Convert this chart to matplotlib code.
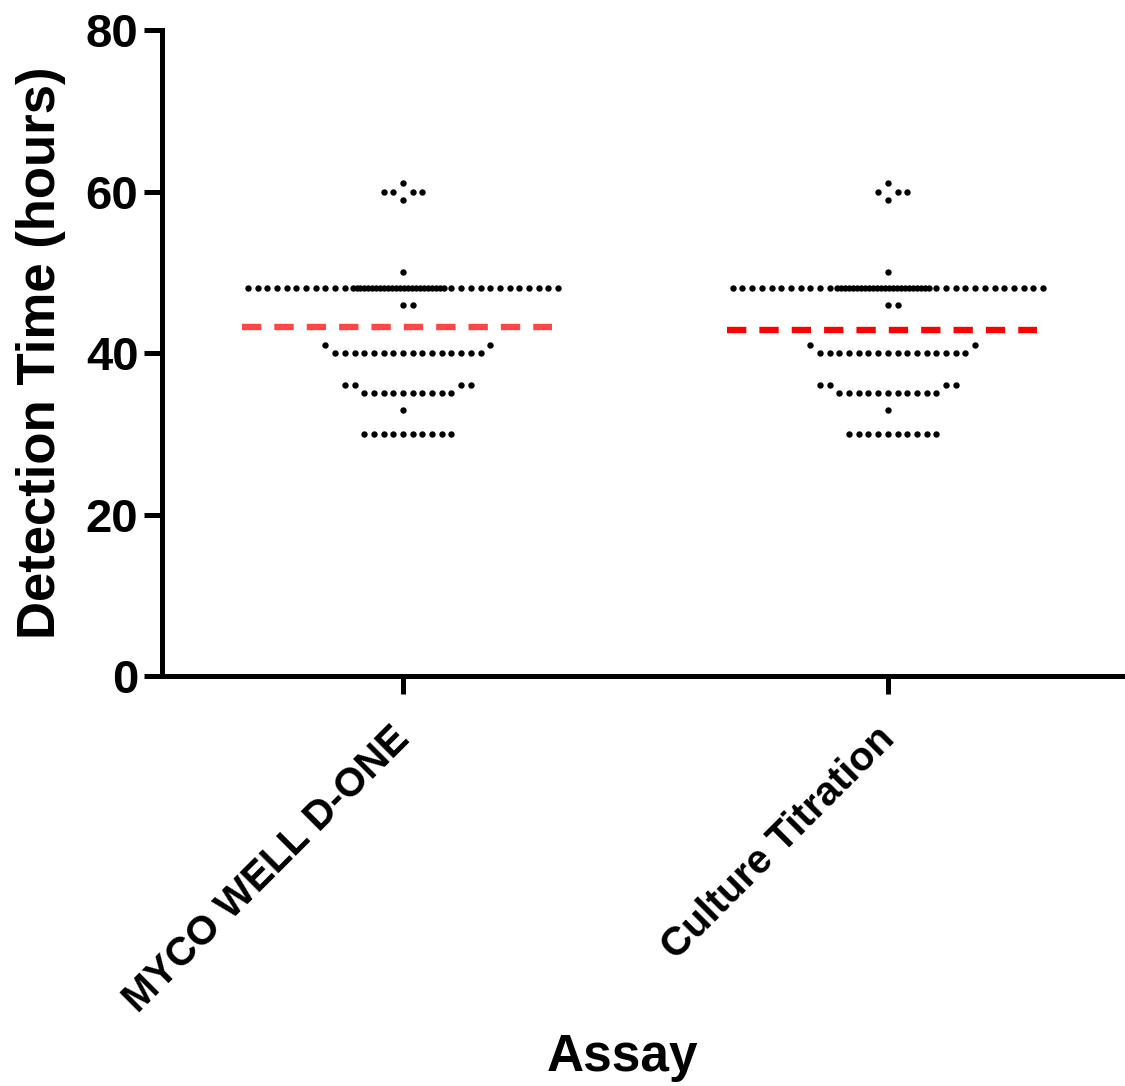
import matplotlib
matplotlib.use("Agg")
import matplotlib.pyplot as plt
import matplotlib.transforms as mtransforms
import numpy as np

plt.rcParams['font.family'] = ['Liberation Sans', 'DejaVu Sans']
plt.rcParams['font.weight'] = 'bold'
plt.rcParams['lines.scale_dashes'] = False

# ---- data ----
categories = ["MYCO WELL D-ONE", "Culture Titration"]
# detection time values (hours) and how many wells had each value
myco_values = [30, 33, 35, 36, 40, 41, 46, 48, 50, 59, 60, 61]
myco_counts = [10, 1, 10, 4, 16, 2, 2, 47, 1, 1, 4, 1]
culture_values = [30, 33, 35, 36, 40, 41, 46, 48, 50, 59, 60, 61]
culture_counts = [10, 1, 11, 4, 16, 2, 2, 47, 1, 1, 3, 1]
mean_values = [43.2, 42.9]
mean_colors = ["#FF4545", "#FF0000"]
yticks = [0, 20, 40, 60, 80]

# ---- layout helpers ----
SLOT = 0.02          # horizontal spacing between dots (x data units)
MAX_HALF = 16        # slots on each side
HY = 1.5             # vertical collision distance (data units)


def slot_order():
    yield 0
    k = 1
    while True:
        yield k
        yield -k
        k += 1


def swarm(values, counts):
    placed = []  # (slot, y)
    xs, ys = [], []
    for v, n in sorted(zip(values, counts)):
        if n > 2 * MAX_HALF + 1:
            outer = list(range(-MAX_HALF, -5)) + list(range(5, MAX_HALF + 1))
            inner = list(np.linspace(-5.2, 4.2, n - len(outer)))
            slots = outer + inner
            for s in slots:
                placed.append((s, v))
                xs.append(s * SLOT)
                ys.append(v)
            continue
        for _ in range(n):
            for s in slot_order():
                if not any(ps == s and abs(py - v) < HY for ps, py in placed):
                    break
            placed.append((s, v))
            xs.append(s * SLOT)
            ys.append(v)
    return np.array(xs), np.array(ys)


fig = plt.figure(figsize=(11.25, 10.86), dpi=100)
ax = fig.add_axes([0.144, 0.3775, 0.856, 0.5948])

groups = [(myco_values, myco_counts), (culture_values, culture_counts)]
for i, (vals, cnts) in enumerate(groups):
    dx, dy = swarm(vals, cnts)
    ax.plot(i + dx, dy, 'o', color='black', markersize=4.6, markeredgewidth=0,
            zorder=3)
    ax.plot([i - 0.332, i + 0.307], [mean_values[i]] * 2,
            color=mean_colors[i], linewidth=4.6, dash_capstyle='butt',
            linestyle=(0, (13.9, 9.4)), zorder=4)

ax.set_xlim(-0.497, 1.489)
ax.set_ylim(0, 80)
ax.set_yticks(yticks)
ax.set_xticks(range(len(categories)))

for side in ['top', 'right']:
    ax.spines[side].set_visible(False)
for side in ['left', 'bottom']:
    ax.spines[side].set_linewidth(3.6)
ax.tick_params(axis='both', length=13, width=3.6, direction='out')
ax.tick_params(axis='y', pad=4)
ax.tick_params(axis='x', pad=8)

ax.set_xticklabels(categories, rotation=45, ha='right', rotation_mode='anchor',
                   fontsize=29, fontweight='bold')
offset = mtransforms.ScaledTranslation(-9 / 72, -10 / 72, fig.dpi_scale_trans)
for lab in ax.get_xticklabels():
    lab.set_transform(lab.get_transform() + offset)
for lab in ax.get_yticklabels():
    lab.set_fontsize(34)
    lab.set_fontweight('bold')

ax.set_ylabel("Detection Time (hours)", fontsize=38, fontweight='bold',
              labelpad=14)
ax.set_xlabel("Assay", fontsize=37, fontweight='bold')
ax.xaxis.set_label_coords(0.478, -0.553)

fig.savefig("out.png", dpi=100)
